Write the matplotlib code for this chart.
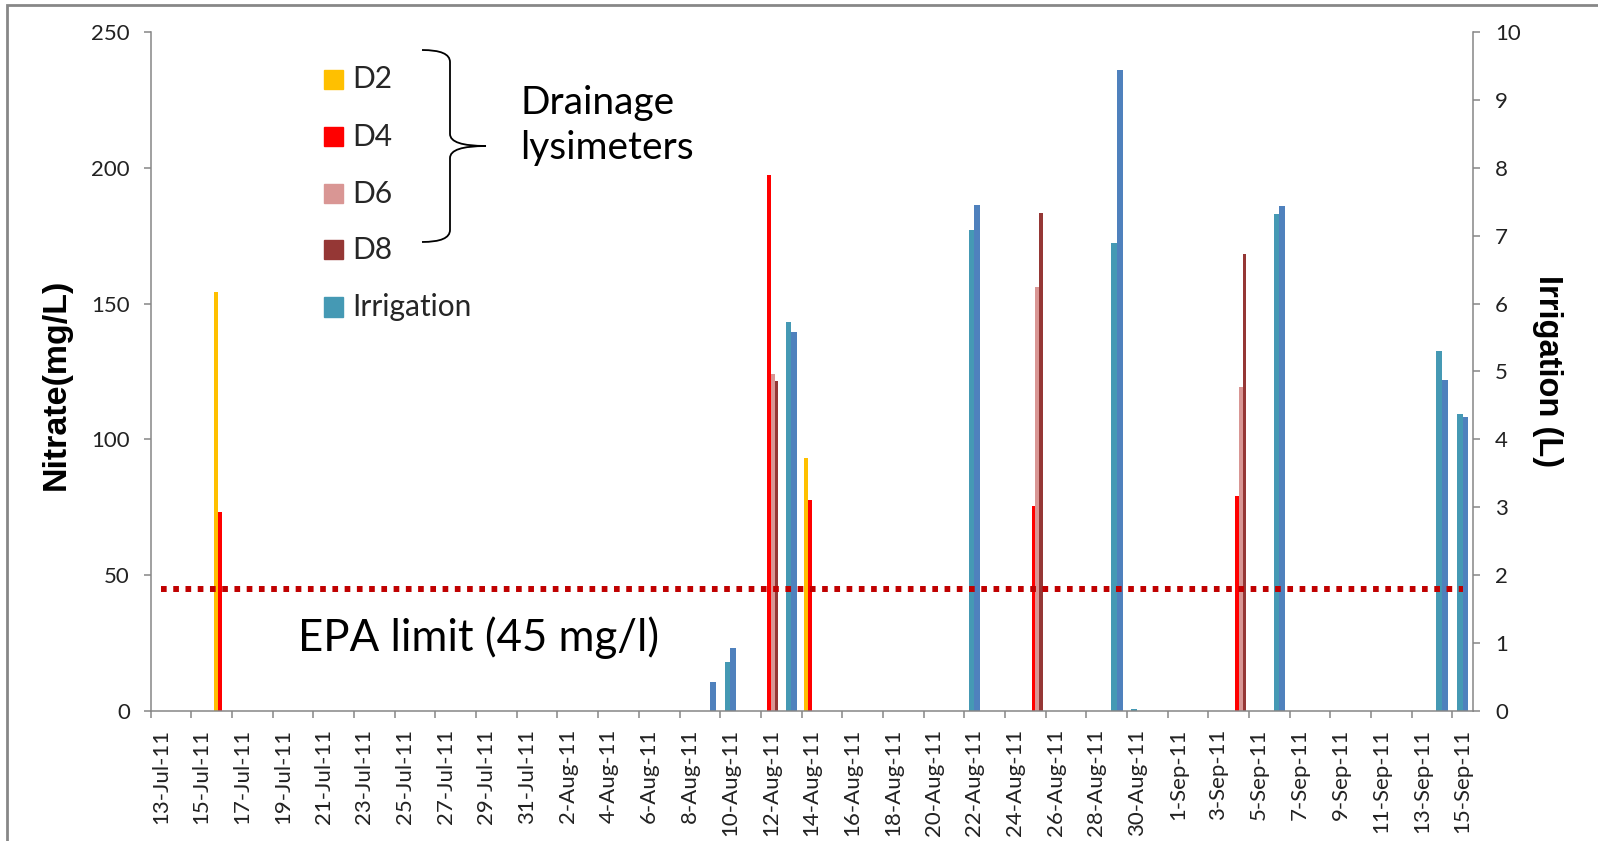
import numpy as np
import pandas as pd
import matplotlib
matplotlib.use('Agg')
import matplotlib.pyplot as plt
from matplotlib.patches import Rectangle, PathPatch
from matplotlib.path import Path

# ---- data ----
day_first, day_last = '2011-07-13', '2011-09-15'

d2_days = ['2011-07-16', '2011-08-14']
d2_vals = [154.3, 93.0]
d4_days = ['2011-07-16', '2011-08-12', '2011-08-14', '2011-08-25', '2011-09-04']
d4_vals = [73.3, 197.4, 77.7, 75.5, 79.1]
d6_days = ['2011-08-12', '2011-08-25', '2011-09-04']
d6_vals = [124.1, 156.0, 119.4]
d8_days = ['2011-08-12', '2011-08-25', '2011-09-04']
d8_vals = [121.5, 183.4, 168.3]

irr_days = ['2011-08-10', '2011-08-13', '2011-08-22', '2011-08-29', '2011-08-30',
            '2011-09-06', '2011-09-14', '2011-09-15']
irr_vals = [0.72, 5.73, 7.08, 6.89, 0.02, 7.32, 5.30, 4.38]
irr2_days = ['2011-08-09', '2011-08-10', '2011-08-13', '2011-08-22', '2011-08-29',
             '2011-09-06', '2011-09-14', '2011-09-15']
irr2_vals = [0.43, 0.93, 5.58, 7.45, 9.44, 7.44, 4.87, 4.33]

epa_limit = 45

colors = {'D2': '#FFC000', 'D4': '#FF0000', 'D6': '#D99694', 'D8': '#953735',
          'Irrigation': '#4599B4', 'Irr2': '#4F81BD'}

# ---- figure ----
W, H = 1598, 841
fig = plt.figure(figsize=(W / 100, H / 100), dpi=100, facecolor='white')


def fx(x):
    return x / W


def fy(y):
    return 1 - y / H


ax = fig.add_axes([fx(150.7), fy(710.7), fx(1472.7) - fx(150.7), fy(32.3) - fy(710.7)])
ax2 = ax.twinx()
ax.set_zorder(ax2.get_zorder() + 1)
ax.patch.set_visible(False)

days = pd.date_range(day_first, day_last)


def pos(ds):
    return np.array([days.get_loc(pd.Timestamp(d)) for d in ds]) + 0.5


w1 = 1 / 5.5
for k, (name, ds, vs) in enumerate([('D2', d2_days, d2_vals), ('D4', d4_days, d4_vals),
                                    ('D6', d6_days, d6_vals), ('D8', d8_days, d8_vals)]):
    ax.bar(pos(ds) + (k - 1.5) * w1, vs, width=w1, color=colors[name], linewidth=0)

w2 = 1 / 3.5
ax2.bar(pos(irr_days) - w2 / 2, irr_vals, width=w2, color=colors['Irrigation'], linewidth=0)
ax2.bar(pos(irr2_days) + w2 / 2, irr2_vals, width=w2, color=colors['Irr2'], linewidth=0)

# EPA limit line
ax.plot(pos([day_first, day_last]), [epa_limit, epa_limit], color='#C00000', lw=4.3,
        dashes=(0.95, 1.1), zorder=5)

# ---- axes styling ----
grey = '#868686'
txt = '#222222'
tick_font = 'Lato'

ax.set_xlim(0, len(days))
ax.set_ylim(0, 250)
ax2.set_ylim(0, 10)
ax.set_yticks(range(0, 251, 50))
ax2.set_yticks(range(0, 11))

ax.set_xticks(np.arange(0, len(days), 2))
ax.set_xticklabels([])
ax.set_xticks(np.arange(0, len(days), 2) + 0.5, minor=True)
ax.set_xticklabels([f"{d.day}-{d:%b-%y}" for d in days[::2]], minor=True, rotation=90,
                   fontfamily=tick_font, fontsize=16, color=txt)

ax.tick_params(axis='x', which='major', direction='out', length=5, width=1.1, color=grey)
ax.tick_params(axis='x', which='minor', length=0, pad=13)
ax.tick_params(axis='y', direction='out', length=5, width=1.1, color=grey, pad=10,
               labelsize=16, labelcolor=txt)
ax2.tick_params(axis='y', direction='out', length=5, width=1.1, color=grey, pad=11,
                labelsize=16, labelcolor=txt)
for lab in ax.get_yticklabels() + ax2.get_yticklabels():
    lab.set_fontfamily(tick_font)

for s in ['top', 'right']:
    ax.spines[s].set_visible(False)
for s in ['left', 'bottom']:
    ax.spines[s].set_color(grey)
    ax.spines[s].set_linewidth(1.1)
for s in ['top', 'left', 'bottom']:
    ax2.spines[s].set_visible(False)
ax2.spines['right'].set_color(grey)
ax2.spines['right'].set_linewidth(1.1)

# axis titles
fig.text(fx(56), fy(384), 'Nitrate(mg/L)', rotation=90, ha='center', va='center',
         fontsize=24.5, fontweight='bold', fontfamily='Liberation Sans', color='black')
fig.text(fx(1547), fy(371), 'Irrigation (L)', rotation=270, ha='center', va='center',
         fontsize=23.5, fontweight='bold', fontfamily='Liberation Sans', color='black')

# ---- hand-made legend ----
leg_names = ['D2', 'D4', 'D6', 'D8', 'Irrigation']
leg_rows = [79.5, 136.6, 193.7, 249.7, 306.8]
sq = 19.4
for name, yc in zip(leg_names, leg_rows):
    fig.patches.append(Rectangle((fx(324), fy(yc + sq / 2)), sq / W, sq / H,
                                 transform=fig.transFigure, color=colors[name]))
    fig.text(fx(352), fy(yc), name, ha='left', va='center', fontsize=21.5,
             fontfamily='Lato', color='#262626')

# brace
tip = 486
verts = [(422, 50), (450, 50), (450, 62),
         (450, 134),
         (450, 146), (tip, 146),
         (450, 146), (450, 158),
         (450, 230),
         (450, 242), (422, 242)]
codes = [Path.MOVETO, Path.CURVE3, Path.CURVE3,
         Path.LINETO,
         Path.CURVE3, Path.CURVE3,
         Path.CURVE3, Path.CURVE3,
         Path.LINETO,
         Path.CURVE3, Path.CURVE3]
brace = Path([(fx(x), fy(y)) for x, y in verts], codes)
fig.patches.append(PathPatch(brace, transform=fig.transFigure, fill=False,
                             edgecolor='black', lw=1.3))

fig.text(fx(520), fy(103), 'Drainage', ha='left', va='center', fontsize=28,
         fontfamily='Lato', color='black')
fig.text(fx(520), fy(148), 'lysimeters', ha='left', va='center', fontsize=28,
         fontfamily='Lato', color='black')
fig.text(fx(298), fy(638), 'EPA limit (45 mg/l)', ha='left', va='center', fontsize=31.5,
         fontfamily='Lato', color='black')

# outer frame
fig.patches.append(Rectangle((fx(7), -0.1), 1.2, fy(5) + 0.1, transform=fig.transFigure,
                             fill=False, edgecolor='#878787', lw=2))

fig.savefig('out.png', dpi=100, facecolor='white')
